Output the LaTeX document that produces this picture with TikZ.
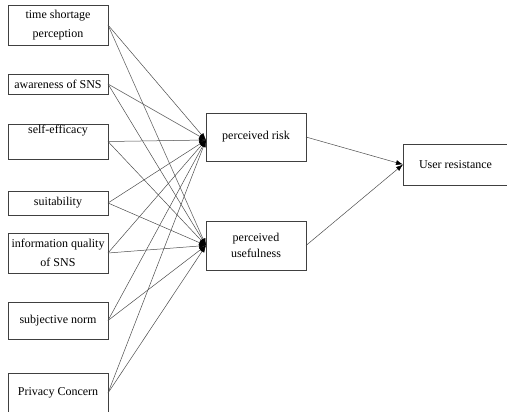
\documentclass[tikz,border=0pt]{standalone}
\usepackage{fontspec}
\setmainfont{Liberation Serif}
\usetikzlibrary{arrows.meta}

\begin{document}
\begin{tikzpicture}[x=1pt,y=-1pt,
    box/.style={draw=black!75, line width=0.6pt, minimum width=100pt,
      anchor=north west, outer sep=0pt, inner sep=1pt, align=center,
      font=\fontsize{12}{18.5}\selectfont},
    link/.style={draw=black!70, line width=0.5pt,
      -{Latex[length=7pt,width=5pt,color=black]}}]
  \useasboundingbox (0,0) rectangle (507,412);
  % factors
  \node[box, minimum height=40pt] (time)  at (8,5)   {time shortage\\perception};
  \node[box, minimum height=20pt] (aware) at (8,74)  {awareness of SNS};
  \node[box, minimum height=35pt] (self)  at (8,124) {self-efficacy\\\strut};
  \node[box, minimum height=24pt] (suit)  at (8,191) {suitability};
  \node[box, minimum height=40pt] (info)  at (8,233) {information quality\\of SNS};
  \node[box, minimum height=37pt] (norm)  at (8,302) {subjective norm};
  \node[box, minimum height=40pt] (priv)  at (8,373) {Privacy Concern};
  % mediators
  \node[box, minimum height=48pt] (risk) at (206,113) {perceived risk};
  \node[box, minimum height=49pt, font=\fontsize{12}{16}\selectfont] (use) at (206,221) {perceived\\usefulness};
  % outcome
  \node[box, minimum width=105pt, minimum height=41pt] (resist) at (403,144) {User resistance};
  % paths
  \foreach \f in {time,aware,self,suit,info,norm,priv}{
    \draw[link] (\f.east) -- ([yshift=-3pt]risk.west);
    \draw[link] (\f.east) -- (use.west);
  }
  \draw[link] (risk.east) -- (resist.west);
  \draw[link] (use.east) -- (resist.west);
\end{tikzpicture}
\end{document}
